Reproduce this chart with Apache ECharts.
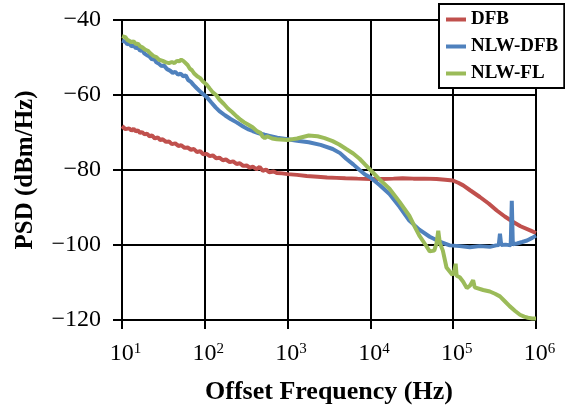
<!DOCTYPE html>
<html>
<head>
<meta charset="utf-8">
<title>PSD vs offset frequency</title>
<script src="https://cdn.jsdelivr.net/npm/echarts@6/dist/echarts.min.js"></script>
<style>
  html, body { margin: 0; padding: 0; background: #fff; }
  #chart { width: 565px; height: 410px; }
</style>
</head>
<body>
<div id="chart"></div>
<script>
// Power spectral density, [offset frequency (Hz), PSD (dBm/Hz)]
const dfb = [
  [10,-68.3],[10.5,-68.8],[11,-69.1],[11.6,-68.6],[12.2,-68.9],[13,-69.5],[13.8,-69.0],
  [14.6,-69.7],[15.5,-69.4],[16.5,-70.1],[17.5,-69.9],[18.7,-70.5],[20,-70.3],[21.5,-71.0],
  [23,-70.8],[25,-71.6],[27,-71.3],[29,-72.0],[31,-71.8],[34,-72.5],[37,-72.4],[40,-73.1],
  [44,-72.9],[48,-73.6],[52,-73.4],[57,-74.1],[62,-74.0],[68,-74.6],[74,-74.4],[80,-75.2],
  [88,-75.0],[96,-75.8],[105,-75.7],[115,-76.3],[125,-76.1],[138,-76.9],[150,-76.7],
  [165,-77.4],[180,-77.2],[200,-77.9],[220,-77.7],[242,-78.4],[265,-78.2],[290,-78.9],
  [320,-78.8],[350,-79.4],[380,-79.1],[420,-79.8],[460,-79.2],[500,-80.2],[550,-79.9],
  [600,-80.6],[680,-80.4],[740,-80.8],[860,-80.9],[1000,-81.1],[1300,-81.3],[1700,-81.6],
  [2300,-81.8],[3000,-82.0],[3900,-82.1],[5000,-82.2],[7000,-82.3],[10000,-82.4],[14000,-82.4],
  [19000,-82.3],[24500,-82.2],[33000,-82.3],[45000,-82.3],[63000,-82.4],[80000,-82.6],
  [99000,-82.8],[115000,-83.4],[132000,-84.1],[160000,-85.4],[210000,-87.2],[270000,-89.0],
  [336000,-90.8],[420000,-92.4],[525000,-93.8],[650000,-95.0],[850000,-96.1],[1000000,-96.8]
];

const nlwDfb = [
  [10,-45.5],[10.5,-46.0],[11,-45.8],[11.6,-46.5],[12.3,-46.3],[13,-47.0],[13.8,-46.8],
  [14.7,-47.5],[15.6,-47.4],[16.5,-48.2],[17.5,-48.0],[18.6,-48.9],[20,-49.4],[21.4,-49.7],
  [23,-50.5],[24.5,-50.4],[26,-51.3],[28,-51.7],[30,-52.3],[32,-52.1],[35,-53.1],[38,-53.5],
  [41,-54.1],[44,-53.8],[47.5,-54.6],[51,-54.3],[55,-55.0],[59,-54.8],[63,-56.0],[68,-56.5],
  [73,-57.3],[80,-58.2],[90,-59.3],[105,-60.5],[120,-62.0],[135,-63.3],[150,-64.3],
  [175,-65.4],[205,-66.4],[242,-67.3],[290,-68.4],[330,-69.1],[378,-69.6],[450,-70.2],
  [530,-70.6],[605,-70.9],[750,-71.4],[1000,-71.8],[1300,-72.2],[1800,-72.6],[2500,-73.3],
  [3500,-74.4],[4300,-75.5],[5100,-77.0],[6200,-78.5],[7400,-80.0],[8600,-81.2],[10000,-82.0],
  [12900,-84.0],[17000,-86.4],[22500,-89.8],[29500,-93.5],[39000,-95.9],[52000,-97.8],
  [70000,-99.2],[91000,-100.1],[120000,-100.3],[159000,-100.6],[210000,-100.3],[277000,-100.5],
  [330000,-100.1],[355000,-100.0],[367000,-97.0],[380000,-100.0],[430000,-99.9],[495000,-100.1],
  [510000,-88.2],[525000,-99.8],[590000,-99.6],[680000,-99.2],[780000,-98.8],[900000,-98.1],
  [1000000,-97.5]
];

const nlwFl = [
  [10,-44.3],[10.5,-44.8],[11,-44.6],[11.6,-45.3],[12.2,-45.1],[13,-45.9],[13.8,-45.7],
  [14.7,-46.4],[15.6,-46.3],[16.5,-47.0],[17.6,-47.3],[19,-47.9],[20.5,-48.2],[22,-48.9],
  [24,-49.6],[26,-49.9],[28,-50.6],[31,-50.9],[34,-51.3],[37,-51.5],[40,-51.2],[43,-51.5],
  [46,-50.9],[49,-51.0],[52,-50.6],[55,-50.9],[58,-51.1],[62,-52.0],[66,-53.0],[70,-53.4],
  [74,-54.2],[81,-55.0],[88,-55.5],[95,-56.4],[105,-57.2],[115,-58.3],[125,-59.3],[137,-60.0],
  [150,-61.2],[170,-62.4],[190,-63.6],[215,-64.6],[242,-65.7],[270,-66.6],[300,-67.3],
  [340,-68.0],[378,-68.6],[430,-69.7],[470,-70.1],[500,-71.1],[530,-71.5],[565,-71.0],
  [650,-71.6],[740,-71.8],[1000,-72.0],[1300,-71.6],[1800,-70.8],[2300,-71.0],[2800,-71.5],
  [3500,-72.3],[4200,-73.2],[5100,-74.4],[6200,-75.6],[7400,-77.0],[8600,-78.5],[10000,-80.0],
  [12900,-82.5],[17000,-85.0],[22500,-88.5],[29500,-92.2],[35000,-95.5],[39000,-97.5],
  [46500,-100.0],[52000,-101.7],[59000,-101.5],[63000,-99.5],[66000,-96.2],[69000,-99.5],
  [75000,-101.5],[83000,-106.0],[98000,-108.0],[104000,-106.5],[107000,-105.0],[110000,-108.2],
  [120000,-108.6],[132000,-109.8],[146000,-111.5],[160000,-110.8],[174000,-109.4],
  [182000,-111.3],[190000,-111.5],[230000,-112.0],[277000,-112.4],[320000,-113.0],
  [367000,-113.7],[420000,-115.0],[480000,-116.3],[560000,-117.6],[640000,-118.6],
  [720000,-119.1],[800000,-119.4],[900000,-119.6],[1000000,-119.6]
];

const seriesNames = ['DFB', 'NLW-DFB', 'NLW-FL'];
const seriesColors = ['#C0504D', '#4F81BD', '#9BBB59'];
// decade exponents shown as 10^n under the frequency axis
const decadeExponents = ['1', '2', '3', '4', '5', '6'];
const psdTicks = [-120, -100, -80, -60, -40];

const SERIF = '"Liberation Serif", "Times New Roman", serif';

const chart = echarts.init(document.getElementById('chart'), null, { renderer: 'canvas' });

const black = '#000';
const lineStyle = { color: black, width: 2 };

chart.setOption({
  animation: false,
  backgroundColor: '#fff',
  grid: { left: 122, right: 29, top: 20, bottom: 89, containLabel: false },
  legend: {
    data: seriesNames,
    orient: 'vertical',
    left: 439,
    top: 4,
    padding: [6, 6, 5, 7],
    itemGap: 8,
    itemWidth: 20,
    itemHeight: 4,
    icon: 'rect',
    backgroundColor: '#fff',
    borderColor: black,
    borderWidth: 2,
    borderRadius: 0,
    textStyle: { fontFamily: SERIF, fontWeight: 'bold', fontSize: 19, color: black }
  },
  xAxis: {
    type: 'log',
    logBase: 10,
    min: 10,
    max: 1000000,
    name: 'Offset Frequency (Hz)',
    nameLocation: 'middle',
    nameGap: 59,
    nameTextStyle: { fontFamily: SERIF, fontWeight: 'bold', fontSize: 26, color: black },
    axisLine: { show: true, lineStyle: lineStyle },
    axisTick: { show: true, length: 9, inside: false, lineStyle: lineStyle },
    splitLine: { show: true, lineStyle: lineStyle },
    minorTick: { show: false },
    axisLabel: {
      margin: 22,
      formatter: function (value) {
        const e = Math.round(Math.log10(value));
        return '{g| }{n|10}{e|' + decadeExponents[e - 1] + '}';
      },
      rich: {
        g: { width: 7, fontSize: 14, fontFamily: SERIF },
        n: { fontFamily: SERIF, fontSize: 24, color: black, lineHeight: 24 },
        e: { fontFamily: SERIF, fontSize: 15, color: black, verticalAlign: 'top', lineHeight: 15 }
      }
    }
  },
  yAxis: {
    type: 'value',
    min: psdTicks[0],
    max: psdTicks[psdTicks.length - 1],
    interval: 20,
    name: 'PSD (dBm/Hz)',
    nameLocation: 'middle',
    nameGap: 84,
    nameRotate: 90,
    nameTextStyle: { fontFamily: SERIF, fontWeight: 'bold', fontSize: 25, color: black },
    axisLine: { show: true, lineStyle: lineStyle },
    axisTick: { show: true, length: 9, inside: false, lineStyle: lineStyle },
    splitLine: { show: true, lineStyle: lineStyle },
    axisLabel: {
      margin: 21,
      fontFamily: SERIF,
      fontSize: 24,
      color: black,
      formatter: function (v) { return String(v).replace('-', '\u2212'); }
    }
  },
  series: [dfb, nlwDfb, nlwFl].map(function (data, i) {
    return {
      name: seriesNames[i],
      type: 'line',
      data: data,
      showSymbol: false,
      symbol: 'none',
      smooth: false,
      color: seriesColors[i],
      lineStyle: { color: seriesColors[i], width: 4 },
      emphasis: { disabled: true }
    };
  })
});
</script>
</body>
</html>
